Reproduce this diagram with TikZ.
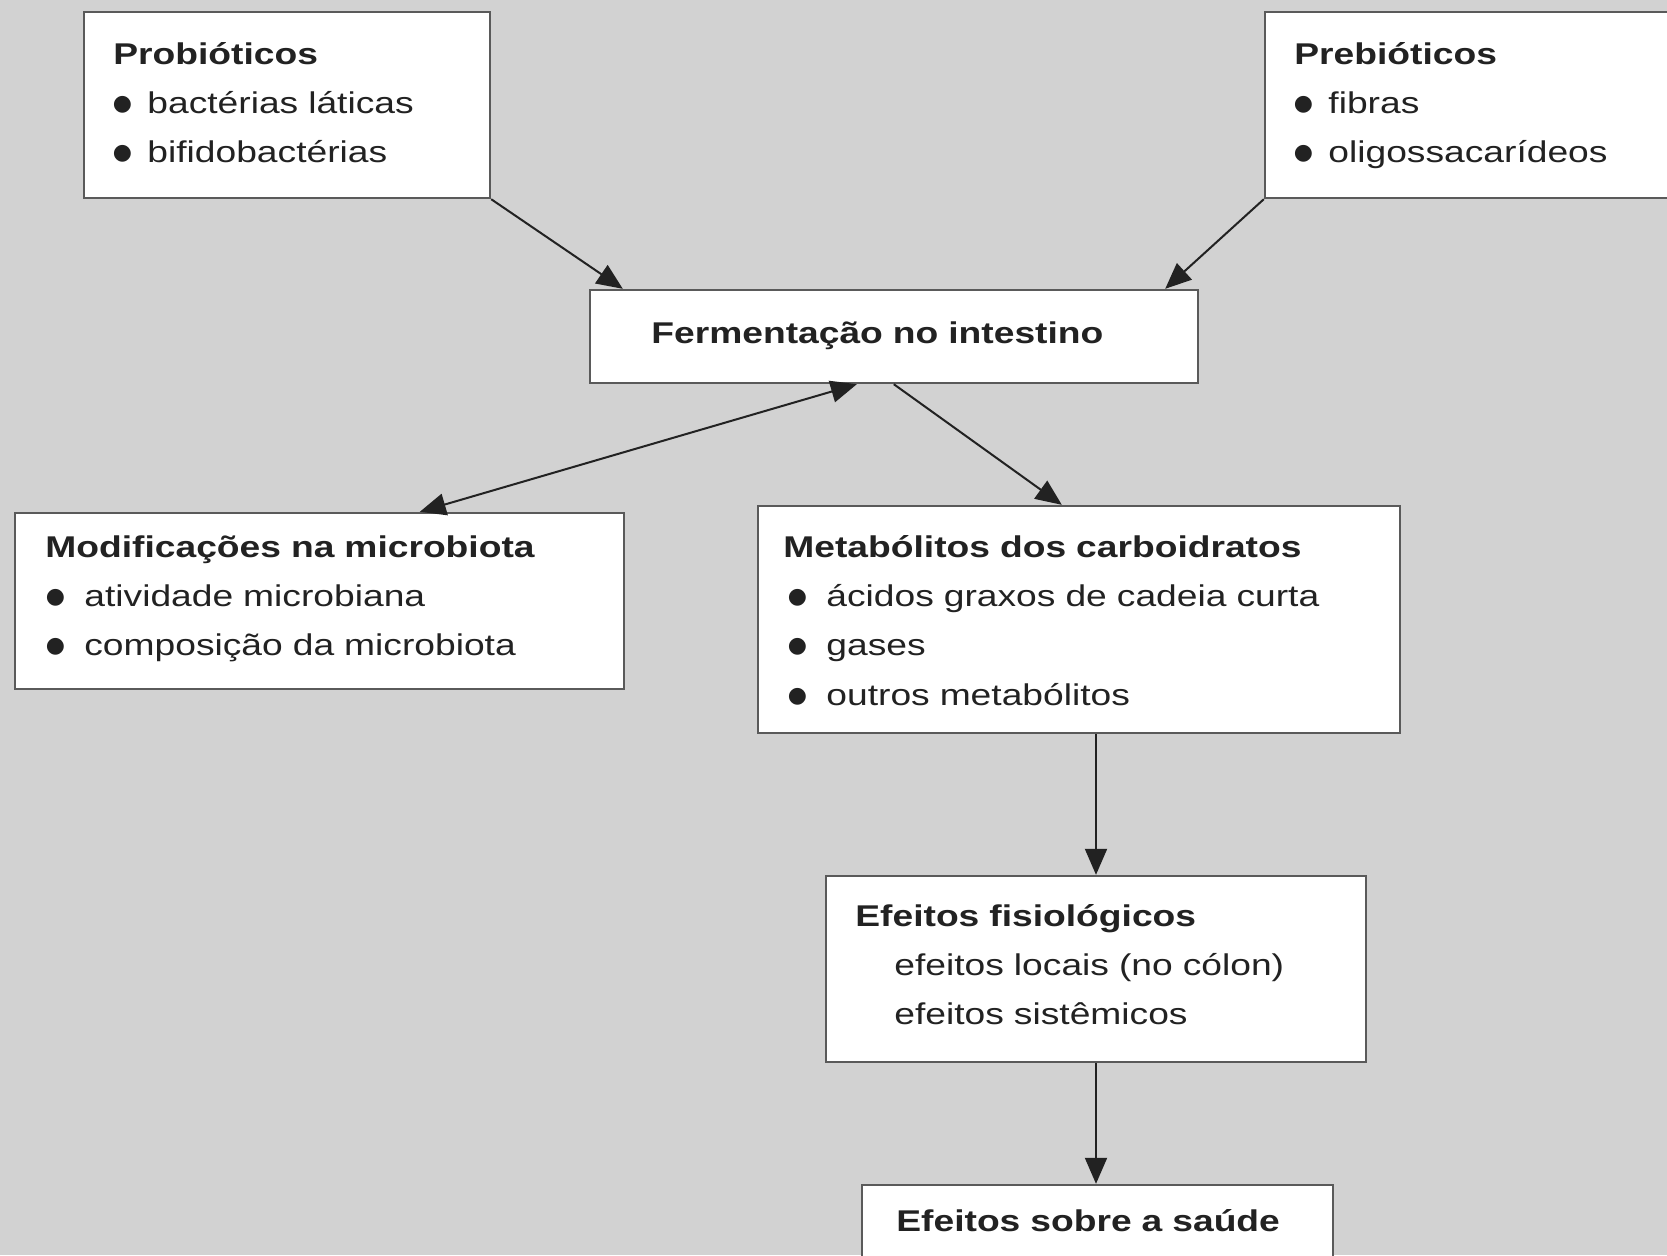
\documentclass[tikz,border=0pt]{standalone}
\usepackage{fontspec}
\setmainfont{Liberation Sans}[FakeStretch=1.24]
\newfontfamily\bulfont{DejaVu Sans}
\usetikzlibrary{arrows.meta}
\definecolor{bg}{RGB}{210,210,210}
\definecolor{edge}{RGB}{90,90,90}
\definecolor{ink}{RGB}{34,34,34}
\newcommand\bul[2]{\makebox[#1][c]{\raisebox{1.6pt}{\bulfont\fontsize{11}{11}\selectfont ●}}\hspace{#2}}
\begin{document}
\begin{tikzpicture}[x=0.5pt,y=-0.5pt,
  box/.style={draw=edge,fill=white,line width=1.2pt,inner sep=0pt},
  txt/.style={anchor=base west,inner sep=0pt,text width=320pt,align=left,text=ink,font=\fontsize{15}{24.7}\selectfont},
  arr/.style={draw=ink,line width=1pt,-{Triangle[length=13pt,width=11pt]}},
  darr/.style={draw=ink,line width=1pt,{Triangle[length=13pt,width=11pt]}-{Triangle[length=13pt,width=11pt]}}]
\useasboundingbox (0,0) rectangle (1667,1255);
\clip (0,0) rectangle (1667,1255);
\fill[bg] (0,0) rectangle (1667,1255);
% boxes
\node[box,minimum width=203pt,minimum height=93pt] (pro) at (287,105) {};
\node[box,minimum width=217.5pt,minimum height=93pt] (pre) at (1482.5,105) {};
\node[box,minimum width=304pt,minimum height=46.5pt] (ferm) at (894,336.5) {};
\node[box,minimum width=304.5pt,minimum height=88pt] (mod) at (319.5,601) {};
\node[box,minimum width=321pt,minimum height=113.5pt] (met) at (1079,619.5) {};
\node[box,minimum width=270pt,minimum height=93pt] (eff) at (1096,969) {};
\node[box,minimum width=235.5pt,minimum height=57.5pt] (sau) at (1097.5,1242.5) {};
% texts
\node[txt] (prot) at (113,64) {\textbf{Probióticos}\\\bul{9pt}{8pt}bactérias láticas\\\bul{9pt}{8pt}bifidobactérias};
\node[txt] (pret) at (1294,64) {\textbf{Prebióticos}\\\bul{9pt}{8pt}fibras\\\bul{9pt}{8pt}oligossacarídeos};
\node[txt] (fermt) at (651,343) {\textbf{Fermentação no intestino}};
\node[txt] (modt) at (45,557) {\textbf{Modificações na microbiota}\\\bul{10pt}{9.5pt}atividade microbiana\\\bul{10pt}{9.5pt}composição da microbiota};
\node[txt] (mett) at (783,557) {\textbf{Metabólitos dos carboidratos}\\\bul{14pt}{7.5pt}ácidos graxos de cadeia curta\\\bul{14pt}{7.5pt}gases\\\bul{14pt}{7.5pt}outros metabólitos};
\node[txt] (efft) at (855,926) {\textbf{Efeitos fisiológicos}\\\hspace*{19.5pt}efeitos locais (no cólon)\\\hspace*{19.5pt}efeitos sistêmicos};
\node[txt] (saut) at (896,1231) {\textbf{Efeitos sobre a saúde}};
% connectors
\draw[arr] (pro.south east) -- ([xshift=17pt]ferm.north west);
\draw[arr] (pre.south west) -- ([xshift=-17pt]ferm.north east);
\draw[darr] ([xshift=134pt]ferm.south west) -- ([xshift=203pt]mod.north west);
\draw[arr] ([xshift=152.5pt]ferm.south west) -- ([xshift=152.5pt]met.north west);
\draw[arr] (eff.north |- met.south) -- (eff.north);
\draw[arr] (eff.south) -- (eff.south |- sau.north);
\end{tikzpicture}
\end{document}
